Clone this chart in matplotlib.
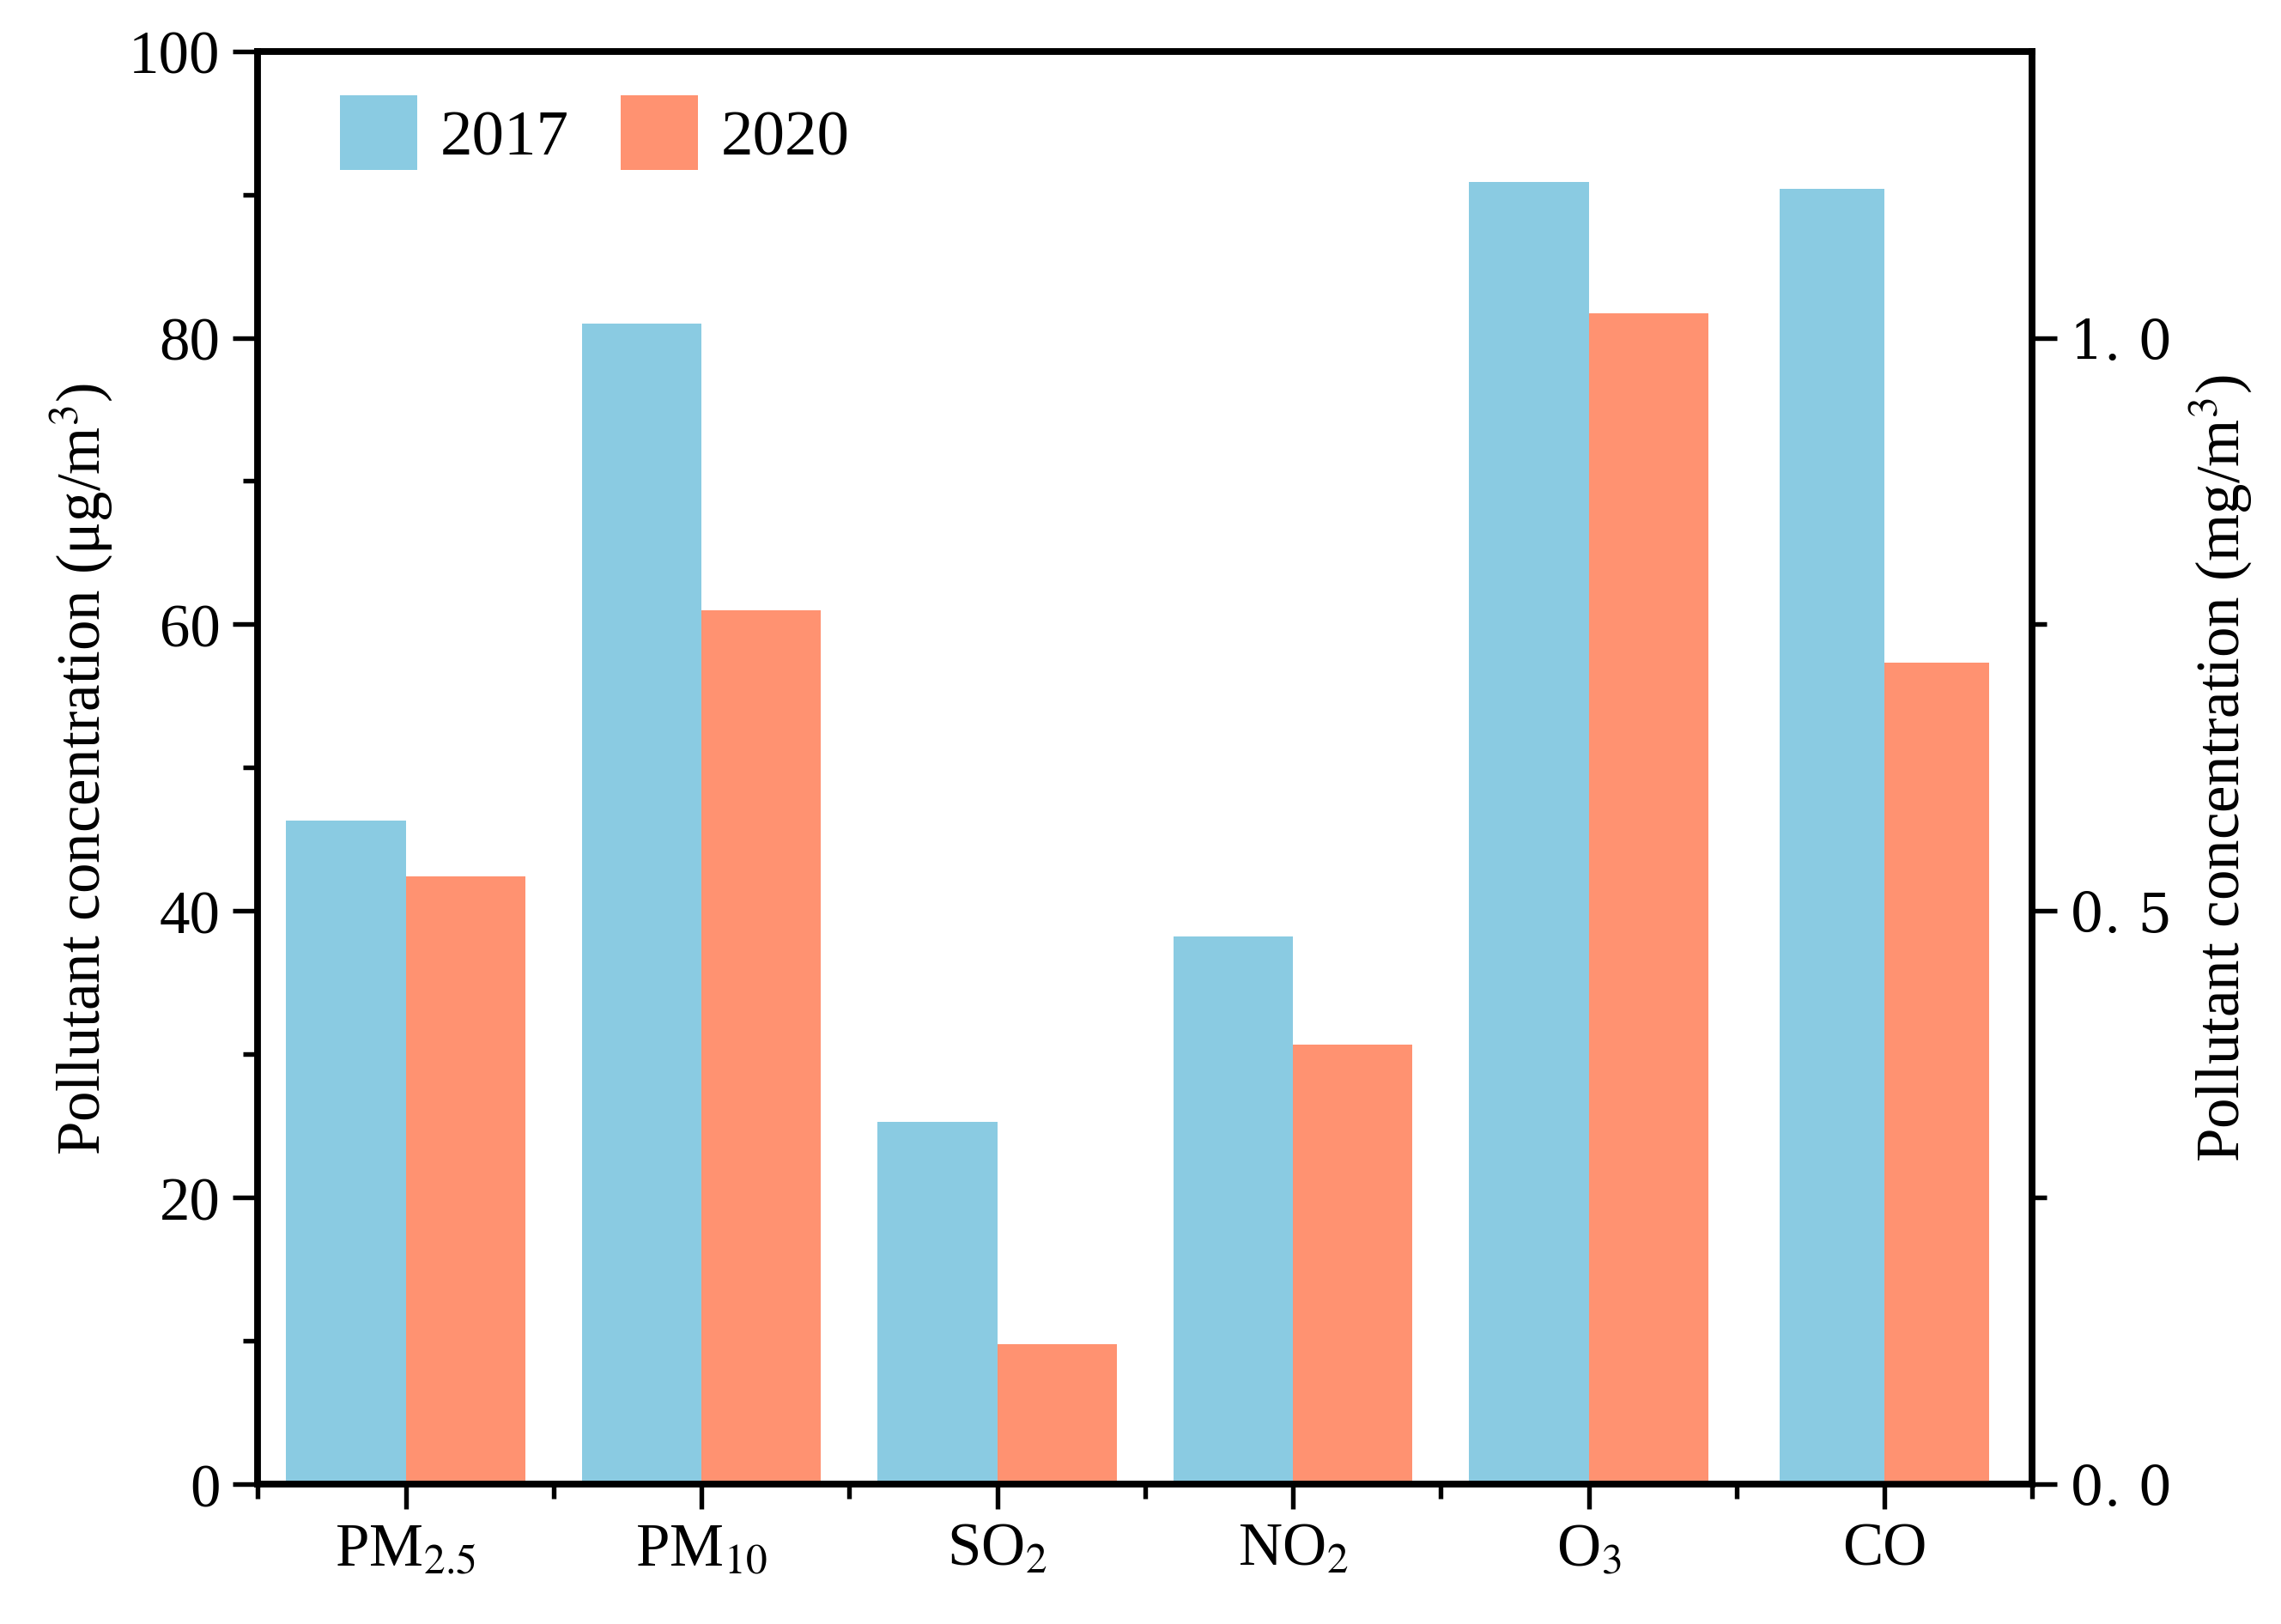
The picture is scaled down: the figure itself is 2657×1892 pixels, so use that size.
import matplotlib
matplotlib.use("Agg")
import matplotlib.pyplot as plt
import numpy as np
from matplotlib.ticker import MultipleLocator, FixedLocator

pollutants = [r"PM$_{2.5}$", r"PM$_{10}$", r"SO$_2$", r"NO$_2$", r"O$_3$", "CO"]
# left axis (ug/m3)
vals_2017 = [46.3, 81.0, 25.3, 38.2, 90.9]
vals_2020 = [42.4, 61.0, 9.8, 30.7, 81.7]
# right axis (mg/m3), CO only
co_2017 = 1.13
co_2020 = 0.717
right_ticks = [0.0, 0.5, 1.0]
right_labels = ["0. 0", "0. 5", "1. 0"]

c17 = "#8ACBE2"
c20 = "#FF9271"

plt.rcParams["font.family"] = ["Liberation Serif", "DejaVu Serif"]
plt.rcParams["mathtext.fontset"] = "stix"

fig, ax = plt.subplots(1, 1, figsize=(2657/300, 1893/300), dpi=300)
plt.subplots_adjust(left=0.113, right=0.891, top=0.968, bottom=0.086)

w = 0.404
x = np.arange(len(vals_2017))
b1 = ax.bar(x - w/2, vals_2017, w, color=c17, label="2017", zorder=2)
b2 = ax.bar(x + w/2, vals_2020, w, color=c20, label="2020", zorder=2)

ax2 = ax.twinx()
wc = 0.355
ax2.bar([5 - wc/2], [co_2017], wc, color=c17, zorder=2)
ax2.bar([5 + wc/2], [co_2020], wc, color=c20, zorder=2)

ax.set_xlim(-0.5, 5.5)
ax.set_ylim(0, 100)
ax2.set_ylim(0, 1.25)

ax.set_xticks(np.arange(6))
ax.set_xticklabels(pollutants, fontsize=17)
ax.xaxis.set_minor_locator(FixedLocator(np.arange(-0.5, 6, 1.0)))
ax.yaxis.set_major_locator(MultipleLocator(20))
ax.yaxis.set_minor_locator(MultipleLocator(10))
ax2.yaxis.set_major_locator(FixedLocator(right_ticks))
ax2.set_yticklabels(right_labels, family="DejaVu Serif", fontsize=15)
ax2.yaxis.set_minor_locator(FixedLocator([0.25, 0.75]))

for a in (ax, ax2):
    for s in a.spines.values():
        s.set_linewidth(1.8)
    a.tick_params(which="major", direction="out", length=7, width=1.3, labelsize=17)
    a.tick_params(which="minor", direction="out", length=4, width=1.3)
ax2.tick_params(which="major", labelsize=15)

ax.set_ylabel(r"Pollutant concentration (μg/m$^3$)", fontsize=17)
ax2.set_ylabel(r"Pollutant concentration (mg/m$^3$)", fontsize=17)

ax.legend(handles=[b1, b2], loc="upper left", ncol=2, frameon=False, fontsize=18,
          handlelength=1.2, handleheight=1.4, columnspacing=0.8, handletextpad=0.36,
          borderpad=0.2, borderaxespad=0, bbox_to_anchor=(0.039, 0.978))

plt.savefig("out.png", dpi=300)
